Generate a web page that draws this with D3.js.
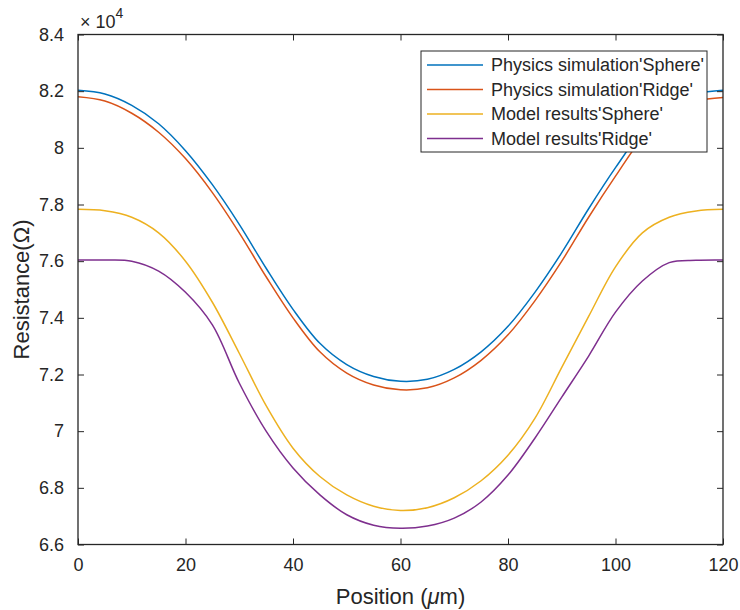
<!DOCTYPE html>
<html>
<head>
<meta charset="utf-8">
<script src="https://cdn.jsdelivr.net/npm/d3@7"></script>
<style>
  body { margin: 0; background: #fff; }
  text { font-family: "Liberation Sans", Arial, sans-serif; fill: #262626; }
</style>
</head>
<body>
<script>
// data (resistance in units of 1e4 ohm)
var position = [0, 5, 10, 15, 20, 25, 30, 35, 40, 45, 50, 55, 60, 65, 70, 75, 80, 85, 90, 95, 100, 105, 110, 115, 120];
var physSphere = [8.203, 8.19, 8.15, 8.085, 7.99, 7.87, 7.73, 7.575, 7.43, 7.31, 7.235, 7.193, 7.176, 7.183, 7.218, 7.28, 7.37, 7.49, 7.63, 7.785, 7.93, 8.06, 8.15, 8.19, 8.203];
var physRidge = [8.18, 8.165, 8.122, 8.055, 7.962, 7.842, 7.70, 7.545, 7.40, 7.28, 7.205, 7.163, 7.146, 7.153, 7.188, 7.25, 7.34, 7.46, 7.60, 7.755, 7.90, 8.035, 8.125, 8.165, 8.178];
var modelSphere = [7.783, 7.778, 7.755, 7.70, 7.60, 7.455, 7.275, 7.09, 6.94, 6.84, 6.775, 6.735, 6.72, 6.73, 6.765, 6.825, 6.915, 7.045, 7.225, 7.405, 7.58, 7.70, 7.755, 7.777, 7.783];
var modelRidge = [7.604, 7.604, 7.60, 7.565, 7.49, 7.375, 7.17, 7.0, 6.87, 6.775, 6.705, 6.668, 6.657, 6.665, 6.693, 6.75, 6.845, 6.975, 7.12, 7.265, 7.42, 7.53, 7.595, 7.603, 7.604];
var seriesNames = ["Physics simulation'Sphere'", "Physics simulation'Ridge'", "Model results'Sphere'", "Model results'Ridge'"];
var colors = ["#0072BD", "#D95319", "#EDB120", "#7E2F8E"];
var xTicks = [0, 20, 40, 60, 80, 100, 120];
var yTicks = [6.6, 6.8, 7, 7.2, 7.4, 7.6, 7.8, 8, 8.2, 8.4];

var series = [physSphere, physRidge, modelSphere, modelRidge].map(function(vals, i) {
    return { name: seriesNames[i], color: colors[i],
             values: vals.map(function(v, j) { return { p: position[j], r: v }; }) };
});

// SVG variables
var margin = {top: 34.5, right: 17, bottom: 65.5, left: 78},
    width = 740 - margin.left - margin.right,
    height = 610 - margin.top - margin.bottom;

var svg = d3.select("body").append("svg")
    .attr("width", 740)
    .attr("height", 610);

var g = svg.append("g")
    .attr("transform", "translate(" + margin.left + "," + margin.top + ")");

// Scales
var x = d3.scaleLinear().domain([0, 120]).range([0, width]);
var y = d3.scaleLinear().domain([6.6, 8.4]).range([height, 0]);

// Lines
var line = d3.line()
    .x(function(d) { return x(d.p); })
    .y(function(d) { return y(d.r); })
    .curve(d3.curveCatmullRom.alpha(0.5));

g.selectAll(".series")
    .data(series)
    .enter().append("path")
    .attr("class", "series")
    .attr("fill", "none")
    .attr("stroke", function(d) { return d.color; })
    .attr("stroke-width", 1.5)
    .attr("d", function(d) { return line(d.values); });

// Axes (ticks inside, box all around)
function styleAxis(sel) {
    sel.select(".domain").remove();
    sel.selectAll(".tick line").attr("stroke", "#262626").attr("stroke-width", 1);
    sel.selectAll(".tick text").style("font-size", "18px")
        .style("font-family", "'Liberation Sans', Arial, sans-serif").attr("fill", "#262626");
}

g.append("g")
    .attr("transform", "translate(0," + height + ")")
    .call(d3.axisBottom(x).tickValues(xTicks).tickSize(-6).tickPadding(14))
    .call(styleAxis);

g.append("g")
    .call(d3.axisTop(x).tickValues(xTicks).tickSize(-6).tickFormat(""))
    .call(styleAxis);

g.append("g")
    .call(d3.axisLeft(y).tickValues(yTicks).tickSize(-6).tickPadding(14).tickFormat(d3.format("")))
    .call(styleAxis);

g.append("g")
    .attr("transform", "translate(" + width + ",0)")
    .call(d3.axisRight(y).tickValues(yTicks).tickSize(-6).tickFormat(""))
    .call(styleAxis);

g.append("rect")
    .attr("width", width)
    .attr("height", height)
    .attr("fill", "none")
    .attr("stroke", "#262626")
    .attr("stroke-width", 1.3);

// exponent label
var ex = g.append("text")
    .attr("x", 2)
    .attr("y", -7)
    .style("font-size", "18px");
ex.append("tspan").text("\u00d7 10");
ex.append("tspan").attr("dy", -10).style("font-size", "14px").text("4");

// axis labels
svg.append("text")
    .attr("x", margin.left + width / 2)
    .attr("y", 604)
    .attr("text-anchor", "middle")
    .style("font-size", "22px")
    .html("Position (<tspan font-style='italic'>\u03bc</tspan>m)");

svg.append("text")
    .attr("transform", "translate(29," + (margin.top + height / 2) + ") rotate(-90)")
    .attr("text-anchor", "middle")
    .style("font-size", "22px")
    .text("Resistance(\u03a9)");

// Legend
var legend = svg.append("g").attr("transform", "translate(421,51)");
legend.append("rect")
    .attr("width", 286)
    .attr("height", 101)
    .attr("fill", "#fff")
    .attr("stroke", "#262626")
    .attr("stroke-width", 1);

var rows = legend.selectAll(".row")
    .data(series)
    .enter().append("g")
    .attr("transform", function(d, i) { return "translate(0," + (14 + i * 24.5) + ")"; });

rows.append("line")
    .attr("x1", 6).attr("x2", 62)
    .attr("stroke", function(d) { return d.color; })
    .attr("stroke-width", 1.5);

rows.append("text")
    .attr("x", 70)
    .attr("y", 6)
    .style("font-size", "18px")
    .text(function(d) { return d.name; });
</script>
</body>
</html>
